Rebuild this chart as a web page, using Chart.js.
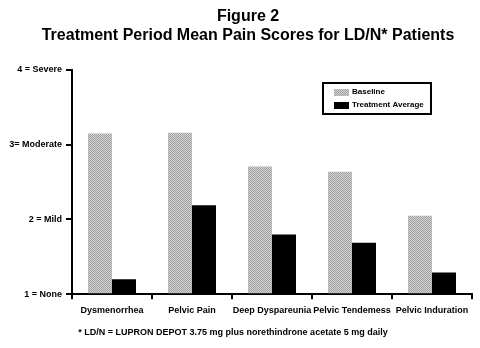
<!DOCTYPE html>
<html>
<head>
<meta charset="utf-8">
<script src="https://cdn.jsdelivr.net/npm/chart.js@4.4.1/dist/chart.umd.min.js"></script>
<style>
  html, body { margin: 0; padding: 0; background: #fff; }
  #wrap { width: 480px; height: 348px; }
</style>
</head>
<body>
<div id="wrap"><canvas id="painChart" width="480" height="348"></canvas></div>
<script>
const categories = ['Dysmenorrhea', 'Pelvic Pain', 'Deep Dyspareunia', 'Pelvic Tendemess', 'Pelvic Induration'];
const baseline = [3.15, 3.16, 2.71, 2.64, 2.05];
const treatmentAverage = [1.2, 2.19, 1.8, 1.69, 1.29];
const scoreLabels = { 1: '1 = None', 2: '2 = Mild', 3: '3= Moderate', 4: '4 = Severe' };
const titleLines = ['Figure 2', 'Treatment Period Mean Pain Scores for LD/N* Patients'];
const footnote = '* LD/N = LUPRON DEPOT 3.75 mg plus norethindrone acetate 5 mg daily';

const FONT = "'Liberation Sans', Arial, sans-serif";

// stippled gray fill for the baseline bars
function stipple() {
    const c = document.createElement('canvas');
    c.width = 2; c.height = 2;
    const g = c.getContext('2d');
    g.fillStyle = '#d4d4d4';
    g.fillRect(0, 0, 2, 2);
    g.fillStyle = '#a0a0a0';
    g.fillRect(0, 0, 1, 1);
    g.fillRect(1, 1, 1, 1);
    return g.createPattern(c, 'repeat');
}
const grayFill = stipple();

// heading above the plot and footnote below it
const figureText = {
    id: 'figureText',
    afterDraw(chart) {
        const ctx = chart.ctx;
        ctx.save();
        ctx.fillStyle = '#000';
        ctx.textAlign = 'center';
        ctx.textBaseline = 'middle';
        ctx.font = 'bold 16px ' + FONT;
        titleLines.forEach((line, i) => ctx.fillText(line, 248, 17 + i * 18.4));
        ctx.font = 'bold 9px ' + FONT;
        ctx.fillText(footnote, 233, 333);
        ctx.restore();
    }
};

// boxed legend, two rows, top right of the plot
const boxLegend = {
    id: 'boxLegend',
    afterDraw(chart) {
        const ctx = chart.ctx;
        const a = chart.chartArea;
        const x = a.right - 149, y = a.top + 13, w = 108, h = 31;
        ctx.save();
        ctx.strokeStyle = '#000';
        ctx.lineWidth = 2;
        ctx.strokeRect(x, y, w, h);
        ctx.font = 'bold 8px ' + FONT;
        ctx.textBaseline = 'middle';
        chart.data.datasets.forEach((ds, i) => {
            const ry = y + 9 + i * 13;
            ctx.fillStyle = ds.backgroundColor;
            ctx.fillRect(x + 11, ry - 3, 15, 7);
            ctx.fillStyle = '#000';
            ctx.fillText(ds.label, x + 29, ry);
        });
        ctx.restore();
    }
};

new Chart(document.getElementById('painChart'), {
    type: 'bar',
    data: {
        labels: categories,
        datasets: [
            { label: 'Baseline', data: baseline, backgroundColor: grayFill },
            { label: 'Treatment Average', data: treatmentAverage, backgroundColor: '#000' }
        ]
    },
    options: {
        responsive: false,
        animation: false,
        devicePixelRatio: 1,
        layout: { padding: { left: 0, right: 8, top: 70, bottom: 26 } },
        datasets: { bar: { categoryPercentage: 0.6, barPercentage: 1.0, base: 1 } },
        plugins: {
            legend: { display: false },
            tooltip: { enabled: false },
            title: { display: false }
        },
        scales: {
            x: {
                offset: true,
                grid: { display: true, drawOnChartArea: false, offset: true, color: '#000', lineWidth: 2, tickLength: 5 },
                border: { display: true, color: '#000', width: 2 },
                ticks: { color: '#000', font: { family: FONT, size: 9, weight: 'bold' }, padding: 6, maxRotation: 0, autoSkip: false }
            },
            y: {
                min: 1,
                max: 4,
                afterFit(scale) { scale.width = 72; },
                grid: { display: true, drawOnChartArea: false, color: '#000', lineWidth: 2, tickLength: 6 },
                border: { display: true, color: '#000', width: 2 },
                ticks: {
                    stepSize: 1,
                    color: '#000',
                    padding: 4,
                    font: { family: FONT, size: 9, weight: 'bold' },
                    callback: v => scoreLabels[v] || ''
                }
            }
        }
    },
    plugins: [figureText, boxLegend]
});
</script>
</body>
</html>
